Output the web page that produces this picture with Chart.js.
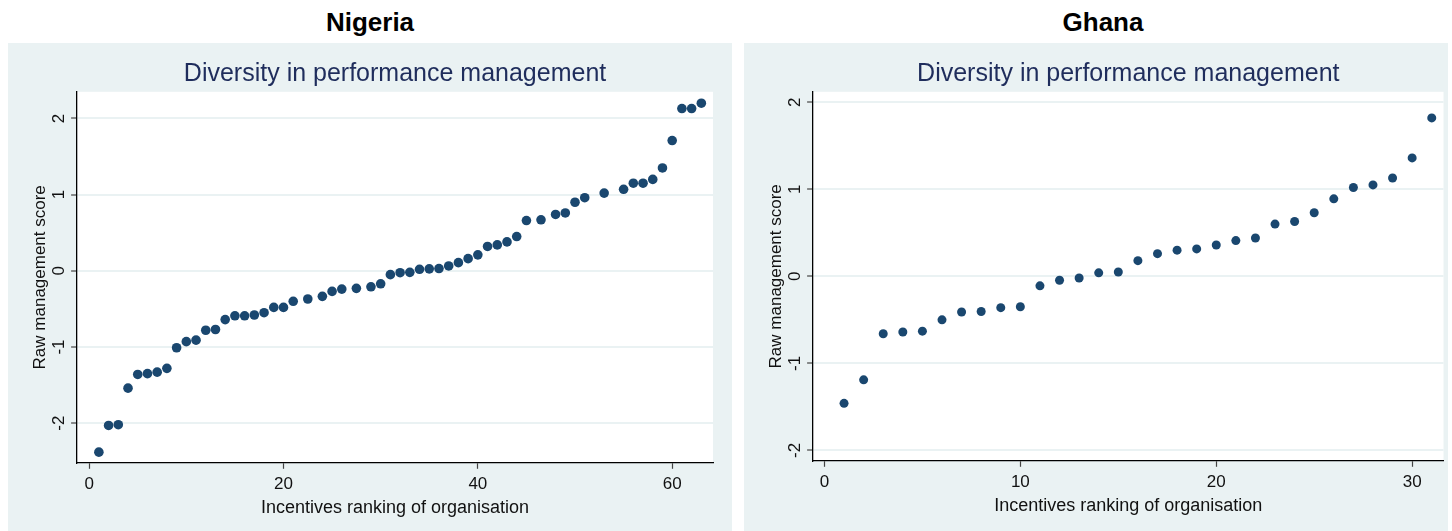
<!DOCTYPE html>
<html><head><meta charset="utf-8">
<script src="https://cdn.jsdelivr.net/npm/chart.js@4.4.1/dist/chart.umd.min.js"></script>
<style>
html,body{margin:0;padding:0;background:#fff;width:1452px;height:531px;overflow:hidden;font-family:"Liberation Sans",Arial,sans-serif}
.panel{position:absolute;top:43px;height:488px;background:#eaf2f3}
.country{position:absolute;top:7px;width:400px;height:30px;line-height:30px;text-align:center;font-weight:bold;font-size:26px;color:#000}
canvas{display:block}
</style></head><body>
<div class="country" style="left:170px">Nigeria</div>
<div class="country" style="left:903px">Ghana</div>
<div class="panel" style="left:8px;width:724px"><canvas id="c1"></canvas></div>
<div class="panel" style="left:744px;width:704px"><canvas id="c2"></canvas></div>
<script>
const subtitle = "Diversity in performance management";
const xTitle = "Incentives ranking of organisation";
const yTitle = "Raw management score";

const nigeriaRank = [1,2,3,4,5,6,7,8,9,10,11,12,13,14,15,16,17,18,19,20,21,22.5,24,25,26,27.5,29,30,31,32,33,34,35,36,37,38,39,40,41,42,43,44,45,46.5,48,49,50,51,53,55,56,57,58,59,60,61,62,63];
const nigeriaScore = [-2.38,-2.03,-2.02,-1.54,-1.36,-1.35,-1.33,-1.28,-1.01,-0.93,-0.91,-0.78,-0.77,-0.64,-0.59,-0.59,-0.58,-0.55,-0.48,-0.48,-0.40,-0.37,-0.335,-0.27,-0.24,-0.23,-0.21,-0.17,-0.05,-0.025,-0.02,0.02,0.026,0.03,0.064,0.107,0.16,0.21,0.32,0.34,0.38,0.45,0.66,0.67,0.74,0.76,0.90,0.96,1.02,1.07,1.15,1.15,1.20,1.35,1.71,2.13,2.13,2.20];

const ghanaRank = [1,2,3,4,5,6,7,8,9,10,11,12,13,14,15,16,17,18,19,20,21,22,23,24,25,26,27,28,29,30,31];
const ghanaScore = [-1.46,-1.19,-0.66,-0.64,-0.63,-0.50,-0.41,-0.405,-0.36,-0.35,-0.11,-0.045,-0.02,0.04,0.05,0.18,0.26,0.30,0.315,0.36,0.41,0.44,0.60,0.63,0.73,0.89,1.02,1.05,1.13,1.36,1.82];

const nigeriaXTicks = [0,20,40,60];
const ghanaXTicks = [0,10,20,30];
const yTicks = [-2,-1,0,1,2];

const FONT = '"Liberation Sans", Arial, sans-serif';

const whitePlot = {id:'whitePlot', beforeDraw(c){
  const a = c.chartArea, ctx = c.ctx;
  ctx.save(); ctx.fillStyle = '#fff';
  ctx.fillRect(a.left, a.top, a.right - a.left, a.bottom - a.top);
  ctx.restore();
}};

function makeChart(id, rank, score, xTicks, xr, yr, pad, radius){
  const pts = rank.map((r,i)=>({x:r, y:score[i]}));
  return new Chart(document.getElementById(id), {
    type:'scatter',
    data:{datasets:[{data:pts, backgroundColor:'#1a476f', borderColor:'#1a476f', borderWidth:0, pointRadius:radius, pointHoverRadius:radius}]},
    plugins:[whitePlot],
    options:{
      responsive:true, maintainAspectRatio:false, animation:false,
      layout:{padding:pad},
      plugins:{
        legend:{display:false}, tooltip:{enabled:false},
        title:{display:true, text:subtitle, fullSize:false, color:'#1f2d5c',
          font:{family:FONT, size:25, weight:'normal', lineHeight:1.2}, padding:{top:16, bottom:2.8}}
      },
      scales:{
        x:{type:'linear', min:xr[0], max:xr[1],
          afterBuildTicks:s=>{s.ticks = xTicks.map(v=>({value:v}));},
          grid:{drawOnChartArea:false, drawTicks:true, tickLength:6, tickColor:'#444', tickWidth:1.2},
          border:{display:true, color:'#000', width:1.3},
          ticks:{color:'#111', font:{family:FONT, size:17}, padding:5, maxRotation:0, autoSkip:false},
          title:{display:true, text:xTitle, color:'#111', font:{family:FONT, size:18, lineHeight:1.1}, padding:{top:-1,bottom:0}}
        },
        y:{type:'linear', min:yr[0], max:yr[1],
          afterBuildTicks:s=>{s.ticks = yTicks.map(v=>({value:v}));},
          grid:{color:'#eaf2f3', lineWidth:2, drawTicks:true, tickLength:6, tickColor:'#444', tickWidth:1.2},
          border:{display:true, color:'#000', width:1.3},
          ticks:{color:'#111', font:{family:FONT, size:17, lineHeight:1.0}, padding:4, minRotation:90, maxRotation:90, crossAlign:'center', autoSkip:false},
          title:{display:true, text:yTitle, color:'#111', font:{family:FONT, size:17, lineHeight:1.1}, padding:{top:0,bottom:-3.6}}
        }
      }
    }
  });
}

makeChart('c1', nigeriaRank, nigeriaScore, nigeriaXTicks, [-1.24, 64.2], [-2.52, 2.35], {left:23, right:19, top:0, bottom:13}, 4.8);
makeChart('c2', ghanaRank, ghanaScore, ghanaXTicks, [-0.58, 31.6], [-2.12, 2.12], {left:23, right:2, top:0, bottom:15}, 4.5);
</script>
</body></html>
